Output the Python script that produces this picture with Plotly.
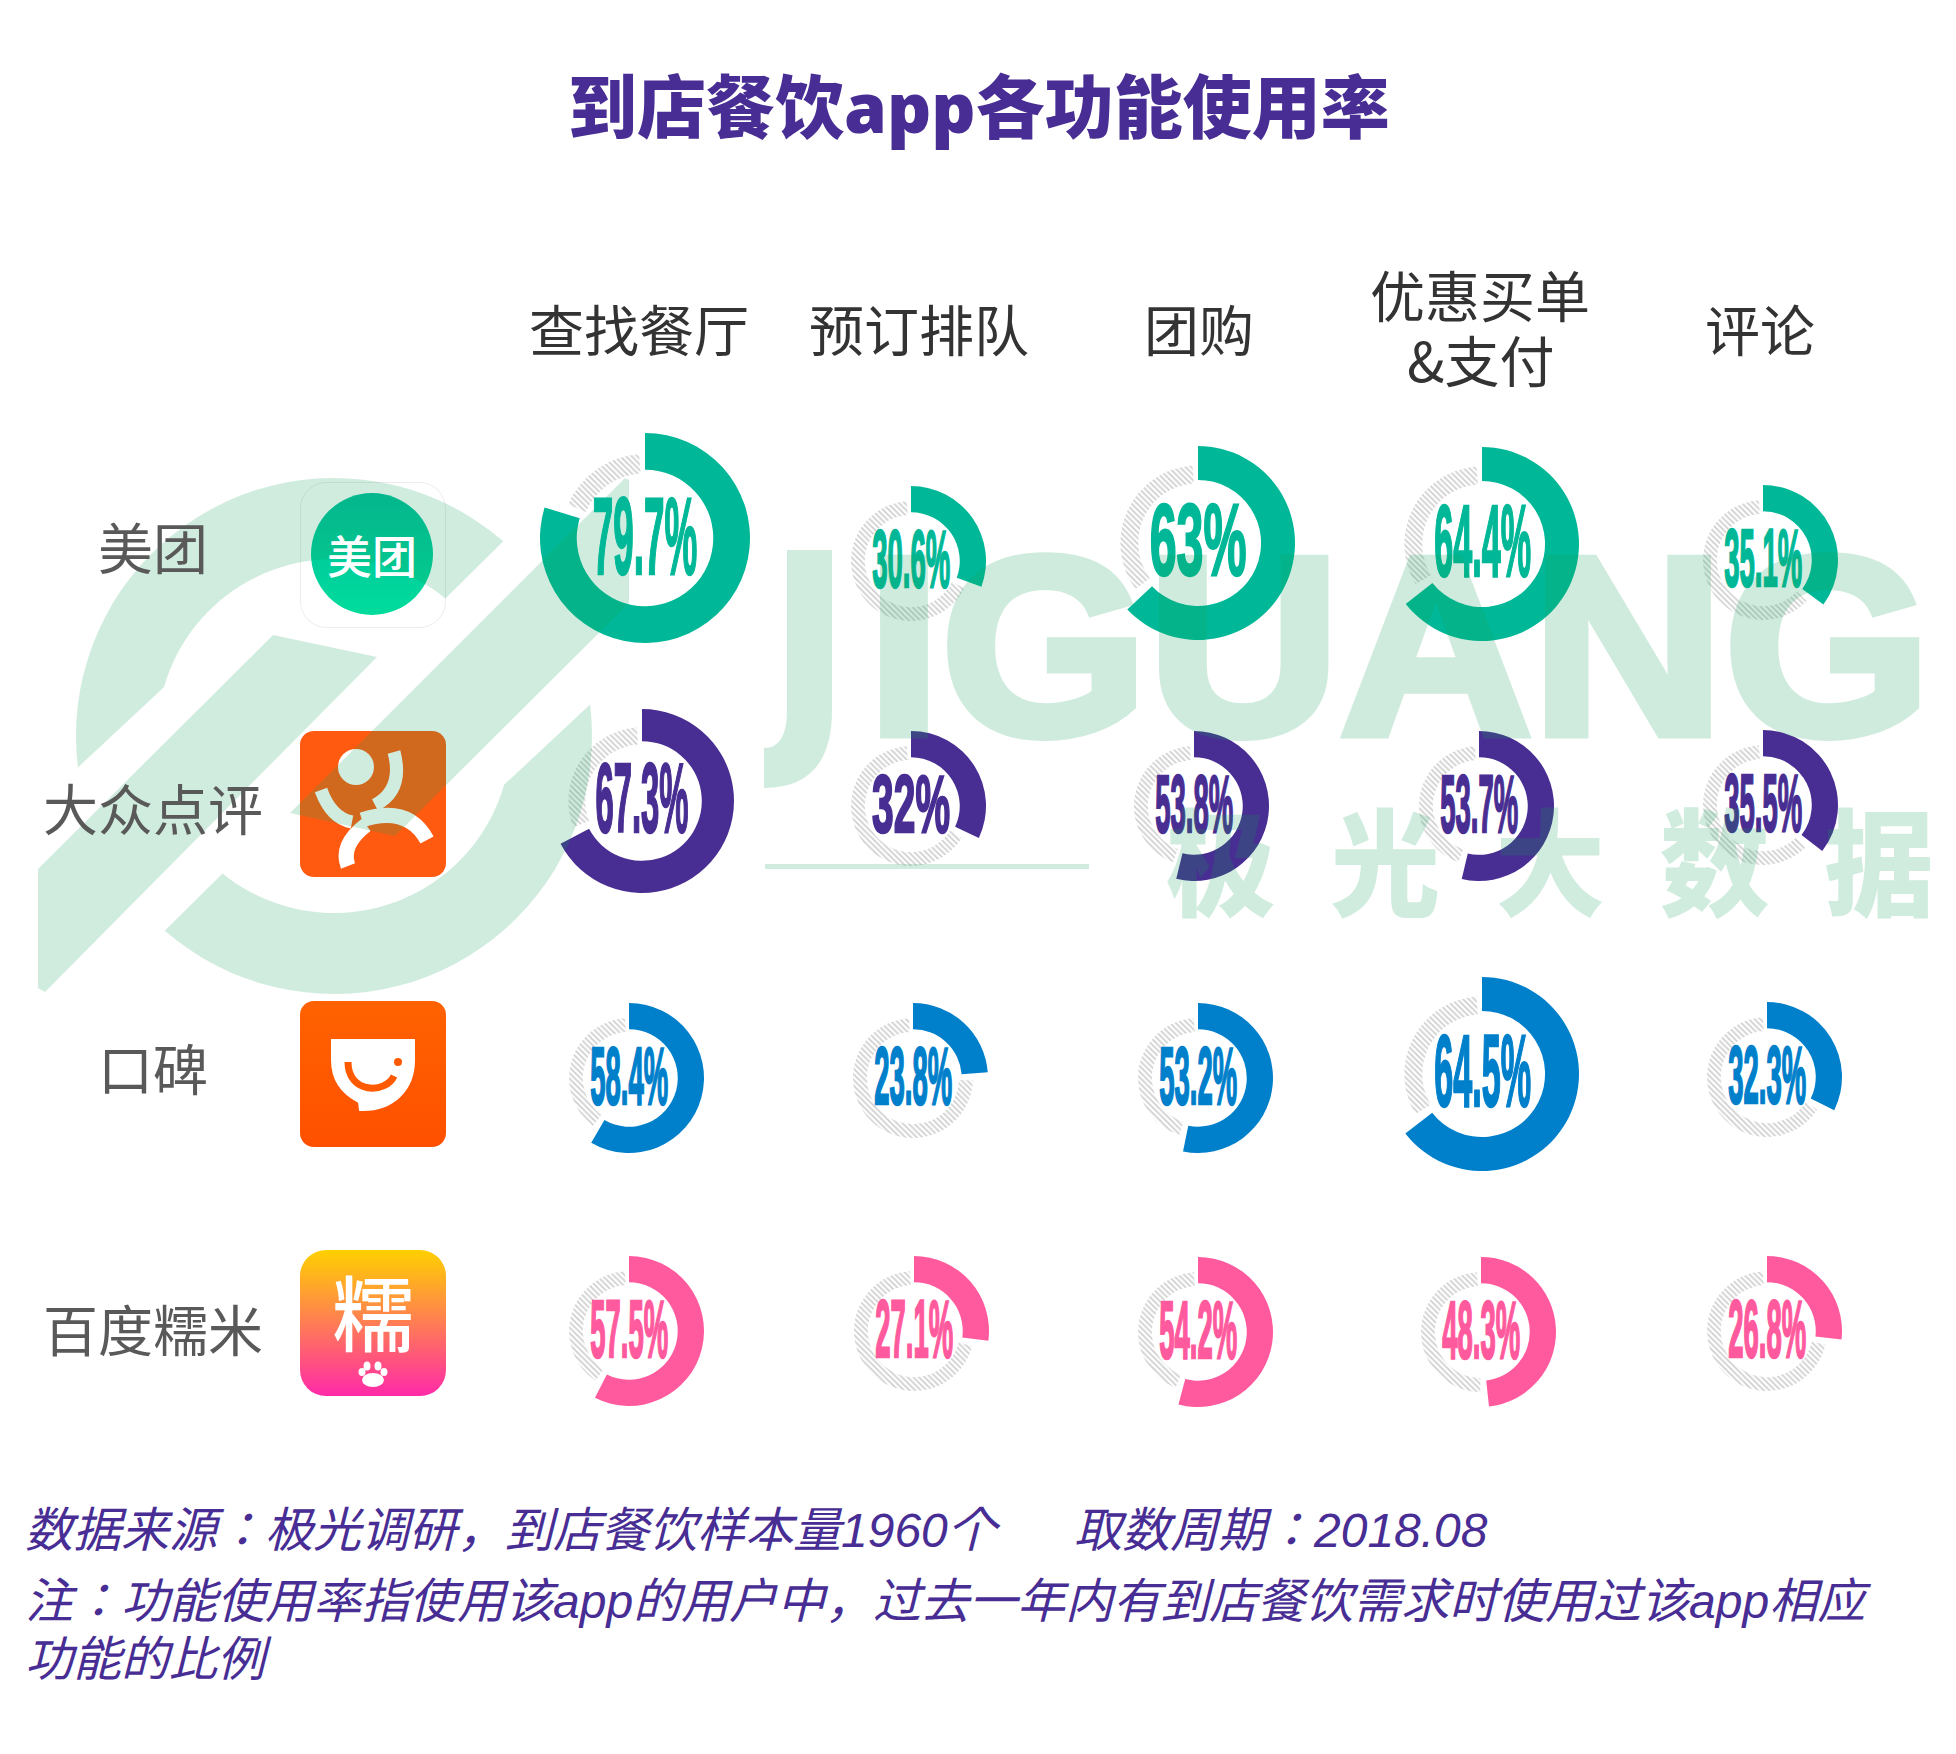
import base64
import json
import math
import plotly.graph_objects as go

W, H = 1956, 1754

# 데이터
apps = ['美团', '大众点评', '口碑', '百度糯米']
features = ['查找餐厅', '预订排队', '团购', '优惠买单<br>&支付', '评论']
meituan = [79.7, 30.6, 63, 64.4, 35.1]
dianping = [67.3, 32, 53.8, 53.7, 35.5]
koubei = [58.4, 23.8, 53.2, 64.5, 32.3]
nuomi = [57.5, 27.1, 54.2, 48.3, 26.8]
rows = [meituan, dianping, koubei, nuomi]

# 배치 (픽셀)
row_colors = ['#00b897', '#482e92', '#007fcb', '#ff5a9d']
ring_x = [[645, 911, 1198, 1482, 1763],
          [642, 911, 1194, 1479, 1763],
          [629, 913, 1198, 1482, 1767],
          [629, 914, 1198, 1481, 1767]]
ring_y = [[538, 561, 543, 544, 560],
          [801, 806, 806, 806, 805],
          [1078, 1078, 1078, 1074, 1077],
          [1331, 1331, 1332, 1332, 1331]]
ring_r = [[105, 75, 97, 97, 75],
          [92, 75, 75, 75, 75],
          [75, 75, 75, 97, 75],
          [75, 75, 75, 75, 75]]
label_size = {75: 82, 92: 98, 97: 102, 105: 110}
header_x = [639, 919, 1199, 1480, 1760]
label_y = [545, 806, 1066, 1327]
icon_y = [482, 731, 1001, 1250]
icon_x, icon_size = 300, 146

CJK = '"Noto Sans CJK SC"'
SANS = 'Liberation Sans, ' + CJK
NOTE = 'Liberation Sans, "Noto Sans CJK KR"'
PURPLE = '#472d94'
MARK = 'rgba(20,160,90,0.2)'

fig = go.Figure()
# 축을 픽셀 좌표로 쓰기 위한 빈 trace
fig.add_trace(go.Scatter(x=[0, W], y=[0, H], mode='none', hoverinfo='skip', showlegend=False))

annotations = []
fit_width = {}


def add_text(text, x, y, size, color, family=SANS, weight=400, style='normal', anchor='center'):
    annotations.append(dict(x=x, y=y, xref='x', yref='y', text=text, showarrow=False, xanchor=anchor,
                            yanchor='middle', align='center',
                            font=dict(size=size, color=color, family=family, weight=weight, style=style)))


def domain(cx, cy, r):
    return dict(x=[(cx - r) / W, (cx + r) / W], y=[1 - (cy + r) / H, 1 - (cy - r) / H])


# 도넛
for i, values in enumerate(rows):
    for j, v in enumerate(values):
        cx, cy, r = ring_x[i][j], ring_y[i][j], ring_r[i][j]
        fig.add_trace(go.Pie(values=[v + 3, 97 - v], sort=False, direction='clockwise', rotation=-4, hole=0.77,
                             domain=domain(cx, cy, r * 0.8), textinfo='none', hoverinfo='skip', showlegend=False,
                             marker=dict(colors=['rgba(0,0,0,0)', 'white'], line=dict(width=0),
                                         pattern=dict(shape=['', '\\'], fgcolor='#d0d0d0', size=4, solidity=0.45))))
        fig.add_trace(go.Pie(values=[v, 100 - v], sort=False, direction='clockwise', rotation=0, hole=0.65,
                             domain=domain(cx, cy, r), textinfo='none', hoverinfo='skip', showlegend=False,
                             marker=dict(colors=[row_colors[i], 'rgba(0,0,0,0)'], line=dict(width=0))))
        text = f'{v}%'
        size = label_size[r]
        fit_width[text] = size * 0.95
        add_text(text, cx, cy - 3, size, row_colors[i], weight=700)

# 제목, 머리글, 행 이름
add_text('到店餐饮app各功能使用率', 979, 106, 69, PURPLE, family='Open Sans, ' + CJK, weight=800)
for x, name in zip(header_x, features):
    lines = name.split('<br>')
    if len(lines) == 1:
        add_text(name, x, 327, 55, '#333333', family=CJK)
    else:
        add_text(lines[0], x, 293, 55, '#333333', family=CJK)
        add_text(lines[1], x, 358, 55, '#333333', family=CJK)
for y, name in zip(label_y, apps):
    add_text(name, 153, y, 55, '#595959', family=CJK)

# 각주
add_text('数据来源：极光调研，到店餐饮样本量1960个', 23, 1530, 48, PURPLE, family=NOTE, style='italic', anchor='left')
add_text('取数周期：2018.08', 1072, 1530, 48, PURPLE, family=NOTE, style='italic', anchor='left')
add_text('注：功能使用率指使用该app的用户中，过去一年内有到店餐饮需求时使用过该app相应', 23, 1601, 48, PURPLE, family=NOTE, style='italic', anchor='left')
add_text('功能的比例', 23, 1659, 48, PURPLE, family=NOTE, style='italic', anchor='left')


def svg_source(svg):
    return 'data:image/svg+xml;base64,' + base64.b64encode(svg.encode()).decode()


# 앱 아이콘: 그라데이션 배경은 svg 이미지로
def icon_image(top, bottom, y, rx=14, inner=''):
    svg = (f'<svg xmlns="http://www.w3.org/2000/svg" viewBox="0 0 146 146"><defs><linearGradient id="g" x1="0" y1="0" x2="0" y2="1">'
           f'<stop offset="0" stop-color="{top}"/><stop offset="1" stop-color="{bottom}"/></linearGradient></defs>')
    svg += inner if inner else f'<rect width="146" height="146" rx="{rx}" fill="url(#g)"/>'
    svg += '</svg>'
    return dict(source=svg_source(svg), xref='x', yref='y', x=icon_x, y=y, sizex=icon_size, sizey=icon_size,
                xanchor='left', yanchor='top', sizing='stretch', layer='below')


meituan_icon = ('<rect x="0.5" y="0.5" width="145" height="145" rx="26" fill="white" stroke="#ececec"/>'
                '<circle cx="72" cy="72" r="61" fill="url(#g)"/>')
images = [icon_image('#00bc9c', '#00dc9c', icon_y[0], inner=meituan_icon),
          icon_image('#ff5a10', '#ff5a10', icon_y[1]),
          icon_image('#ff6200', '#ff5000', icon_y[2]),
          icon_image('#ffd000', '#ff2aa8', icon_y[3], rx=26)]

shapes = []


def circle(cx, cy, rx, ry, fill):
    shapes.append(dict(type='circle', xref='x', yref='y', x0=cx - rx, x1=cx + rx, y0=cy - ry, y1=cy + ry,
                       fillcolor=fill, line=dict(width=0), layer='above'))


def stroke(path, color, width, fill=None):
    shapes.append(dict(type='path', xref='x', yref='y', path=path, layer='above', fillcolor=fill,
                       line=dict(color=color, width=width)))


add_text('美团', 372, 554, 45, 'white', family=CJK, weight=500)

# 大众点评 사람 모양
stroke('M 321 790 Q 331 818 352 822', 'white', 13)
stroke('M 394 752 Q 404 790 375 805', 'white', 13)
stroke('M 366 825 Q 340 845 348 866', 'white', 15)
stroke('M 362 820 Q 408 805 427 840', 'white', 15)
circle(356, 767, 23, 23, '#ff5a10')
circle(356, 767, 18, 18, 'white')

# 口碑 그릇
stroke('M 332 1040 L 414 1040 L 414 1060 C 414 1090 393 1110 363 1110 L 360 1110 L 359 1102 '
       'C 343 1094 332 1080 332 1060 Z', 'white', 2, fill='white')
stroke('M 348 1062 C 348 1094 386 1094 394 1076', '#ff5a00', 7)
circle(398, 1062, 4, 4, '#ff5a00')

# 百度糯米
add_text('糯', 373, 1309, 82, 'white', family=CJK, weight=500)
circle(367, 1366, 3.5, 4.5, 'white')
circle(378, 1366, 3.5, 4.5, 'white')
circle(362, 1372, 3.5, 4, 'white')
circle(384, 1372, 3.5, 4, 'white')
circle(373, 1380, 11, 7, 'white')


# 배경 로고 (그림 위에 반투명하게 덮음)
def arc(r, a0, a1, cx=334, cy=736):
    n = 40
    pts = []
    for k in range(n + 1):
        a = math.radians(a0 + (a1 - a0) * k / n)
        pts.append((cx + r * math.cos(a), cy + r * math.sin(a)))
    return pts


def poly(pts):
    return 'M ' + ' L '.join(f'{x:.1f} {y:.1f}' for x, y in pts) + ' Z'


logo = [arc(258, 173, 311) + arc(177, 309, 196),
        arc(258, 353, 491) + arc(177, 489, 376),
        [(273, 635), (377, 657), (45, 992), (38, 988), (38, 869)],
        [(625, 478), (629, 480), (629, 603), (395, 836), (290, 813)]]
for pts in logo:
    shapes.append(dict(type='path', xref='x', yref='y', path=poly(pts), fillcolor=MARK, line=dict(width=0), layer='above'))
# JIGUANG 의 J, 아래 가는 선
shapes.append(dict(type='path', xref='x', yref='y', layer='above', fillcolor=MARK, line=dict(width=0),
                   path='M 787 550 L 832 550 L 832 710 Q 832 788 764 788 L 764 748 Q 787 748 787 710 Z'))
shapes.append(dict(type='rect', xref='x', yref='y', x0=765, x1=1089, y0=864, y1=869, layer='above',
                   fillcolor=MARK, line=dict(width=0)))

add_text('IGUANG', 1399, 646, 254, MARK, family='Liberation Sans', weight=700)
fit_width['IGUANG'] = 1064
word = '极\u2002光\u2002大\u2002数\u2002据'
add_text(word, 1550, 856, 116, MARK, family=CJK, weight=900)
fit_width[word] = 768

fig.update_layout(width=W, height=H, margin=dict(l=0, r=0, t=0, b=0), paper_bgcolor='white', plot_bgcolor='rgba(0,0,0,0)',
                  showlegend=False, annotations=annotations, shapes=shapes, images=images,
                  xaxis=dict(range=[0, W], visible=False, fixedrange=True),
                  yaxis=dict(range=[H, 0], visible=False, fixedrange=True))

# 세로로 긴 퍼센트 글자: 폭만 줄임
post = """
document.body.style.margin = '0';
var fit = %s;
document.querySelectorAll('.annotation-text').forEach(function (t) {
    var w = fit[t.textContent];
    if (!w) return;
    var b = t.getBBox();
    var c = b.x + b.width / 2;
    t.setAttribute('transform', 'translate(' + c + ',0) scale(' + (w / b.width) + ',1) translate(' + (-c) + ',0)');
    if (t.textContent.indexOf('%%') >= 0) {
        t.style.stroke = t.style.fill;
        t.style.strokeWidth = '2.5px';
    }
    if (t.textContent == 'IGUANG') {
        t.style.fill = 'rgb(20,160,90)';
        t.style.fillOpacity = '1';
        t.style.stroke = 'rgb(20,160,90)';
        t.style.strokeWidth = '9px';
        t.style.opacity = '0.2';
    }
});
""" % json.dumps(fit_width)

fig.write_html("out.html", post_script=post, config=dict(displayModeBar=False))
